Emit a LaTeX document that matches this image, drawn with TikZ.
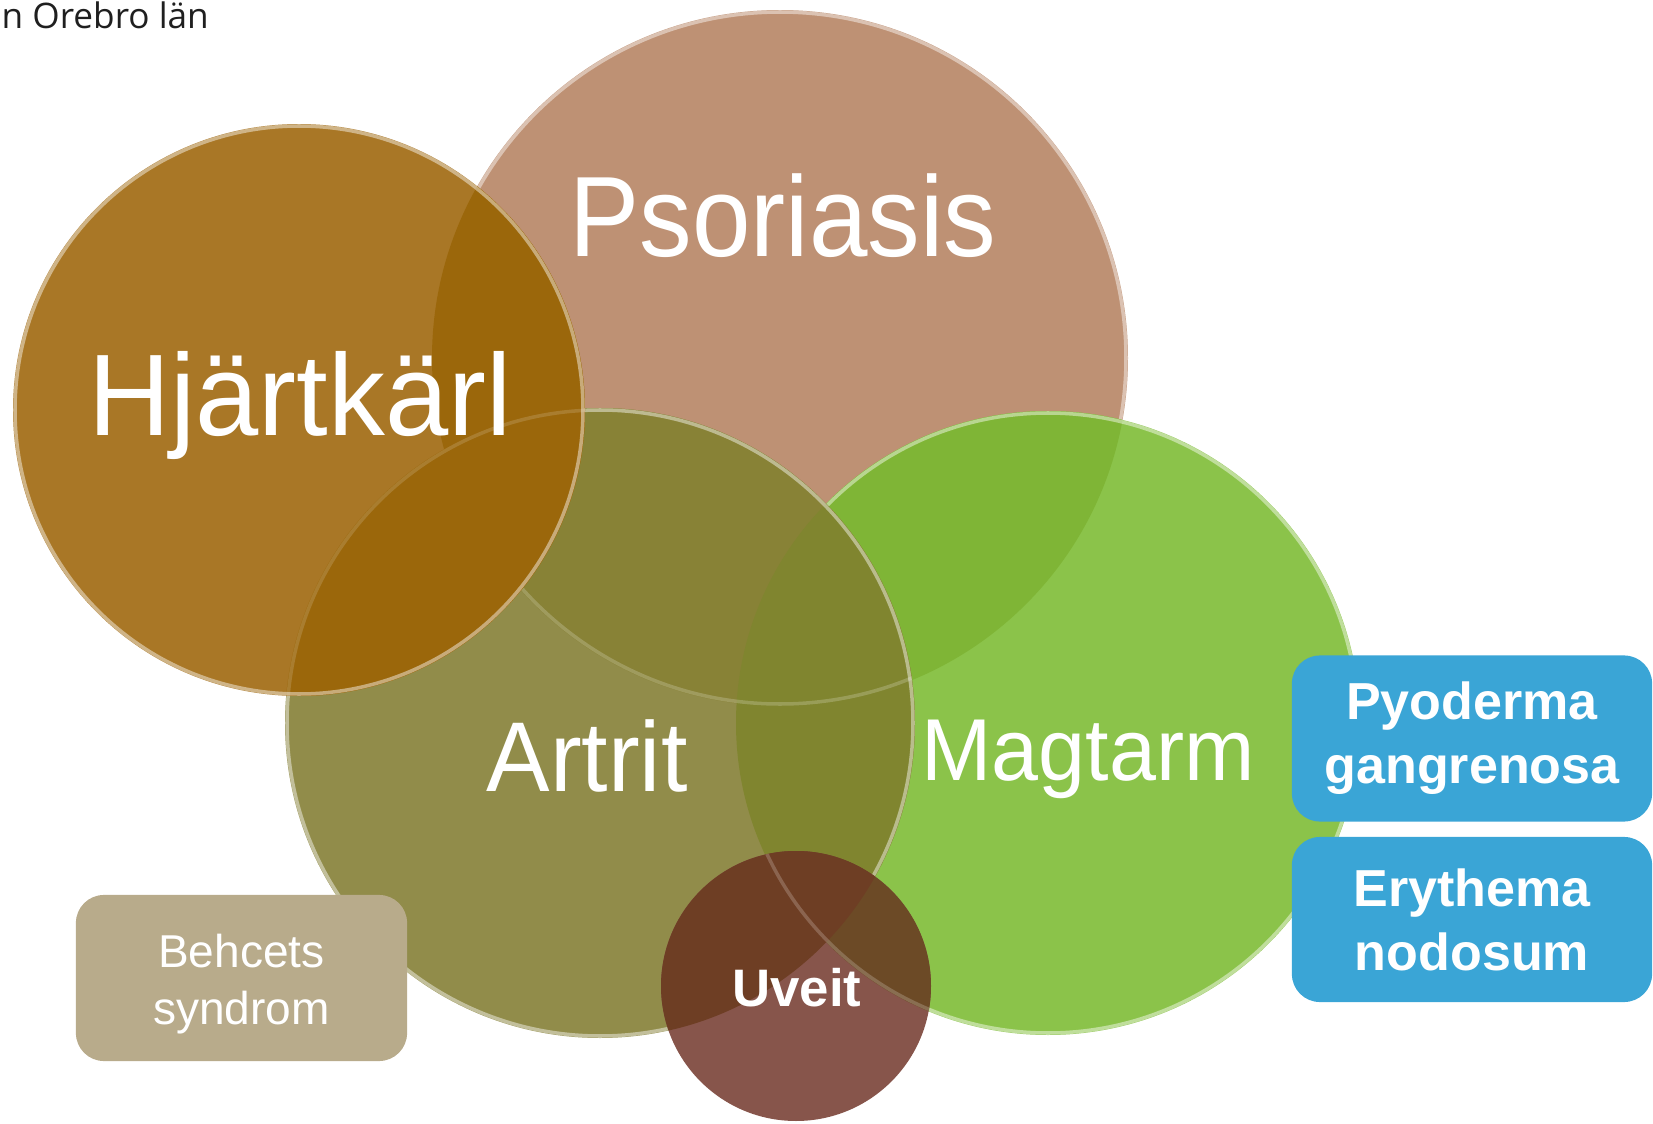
\documentclass[tikz,border=0pt]{standalone}
\usepackage{fontspec}
\usepackage{graphicx}
\setmainfont{Liberation Sans}
\newfontfamily\headfont{Open Sans}

\definecolor{psCol}{HTML}{BE9174}
\definecolor{hjCol}{HTML}{A97726}
\definecolor{arCol}{HTML}{918C4A}
\definecolor{mgCol}{HTML}{8BC34A}
\definecolor{uvCol}{HTML}{87554B}
\definecolor{hjDark}{HTML}{9B670B}
\definecolor{psAr}{HTML}{888236}
\definecolor{psMg}{HTML}{7FB536}
\definecolor{arMg}{HTML}{80852F}
\definecolor{uvAr}{HTML}{6E3E24}
\definecolor{uvMg}{HTML}{6C4A26}
\definecolor{behCol}{HTML}{B8AB8B}
\definecolor{skinCol}{HTML}{3AA5D6}

\begin{document}
\begin{tikzpicture}[x=0.01cm, y=-0.01cm,
    rim/.style={draw=white, draw opacity=0.45, line width=1pt},
    lbl/.style={text=white, anchor=base, inner sep=0pt},
    tag/.style={rounded corners=0.28cm, text=white, align=center, inner sep=0pt,
                minimum width=3.6cm, minimum height=1.66cm,
                font=\bfseries\fontsize{14.8pt}{18.2pt}\selectfont}]
    \useasboundingbox (0,0) rectangle (1653,1124);

    \coordinate (ps) at (780,358);
    \coordinate (hj) at (299,410);
    \coordinate (ar) at (600,723);
    \coordinate (mg) at (1048,723);
    \coordinate (uv) at (796,986);

    % circles, bottom to top
    \fill [psCol] (ps) circle (348);
    \draw [rim] (ps) circle (346);

    \fill [mgCol] (mg) circle (312);
    \begin{scope}
        \clip (mg) circle (312);
        \fill [psMg] (ps) circle (348);
    \end{scope}
    \draw [rim] (mg) circle (310);

    \fill [arCol] (ar) circle (315);
    \begin{scope}
        \clip (ar) circle (315);
        \fill [psAr] (ps) circle (348);
        \fill [arMg] (mg) circle (312);
        \draw [rim, draw opacity=0.2] (ps) circle (346);
    \end{scope}
    \draw [rim] (ar) circle (313);

    \fill [hjCol] (hj) circle (286);
    \begin{scope}
        \clip (hj) circle (286);
        \fill [hjDark] (ps) circle (348);
        \fill [hjDark] (ar) circle (315);
        \draw [rim, draw opacity=0.15] (ar) circle (313);
    \end{scope}
    \draw [rim] (hj) circle (284);

    \fill [uvCol] (uv) circle (135);
    \begin{scope}
        \clip (uv) circle (135);
        \fill [uvMg] (mg) circle (312);
        \fill [uvAr] (ar) circle (315);
        \draw [rim, draw opacity=0.2] (mg) circle (310);
    \end{scope}

    \node (pstxt) [lbl, font=\fontsize{32.5pt}{39pt}\selectfont] at (783,256) {\scalebox{0.92}[1]{Psoriasis}};
    \node (hjtxt) [lbl, font=\fontsize{33pt}{40pt}\selectfont] at (300,435) {\scalebox{0.98}[1]{Hjärtkärl}};
    \node (artxt) [lbl, font=\fontsize{28.2pt}{34pt}\selectfont] at (587,791) {\scalebox{0.96}[1]{Artrit}};
    \node (mgtxt) [lbl, font=\fontsize{25pt}{30pt}\selectfont] at (1088,780) {\scalebox{0.96}[1]{Magtarm}};
    \node (uvtxt) [lbl, font=\bfseries\fontsize{15pt}{18pt}\selectfont] at (797,1006) {Uveit};

    \node (beh) [tag, fill=behCol, minimum width=3.31cm] at (241.5,978) {};
    \node (behtxt) [text=white, align=center, inner sep=0pt, font=\fontsize{13.1pt}{16.4pt}\selectfont] at (241.5,984) {Behcets\\syndrom};
    \node (pyo) [tag, fill=skinCol] at (1472,738.5) {Pyoderma\\gangrenosa};
    \node (ery) [tag, fill=skinCol, minimum height=1.65cm] at (1472,919.5) {Erythema\\nodosum};

    \node (head) [anchor=base west, inner sep=0pt, text=black!88, font=\headfont\fontsize{10pt}{12pt}\selectfont] at (1,28) {n Orebro län};
\end{tikzpicture}
\end{document}
